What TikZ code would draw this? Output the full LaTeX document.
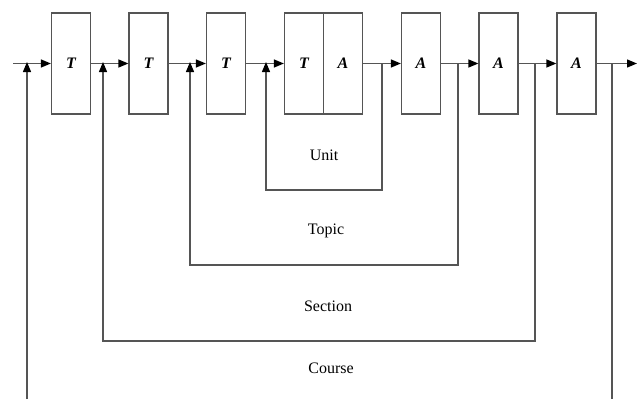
\documentclass[tikz,border=0pt]{standalone}
\usepackage{fontspec}
\setmainfont{Liberation Serif}
\usetikzlibrary{arrows.meta}
\definecolor{ln}{HTML}{555555}
\tikzset{
  blk/.style={draw=ln, line width=1.2pt, minimum width=39pt, minimum height=101pt, inner sep=0pt, font=\fontsize{16}{16}\selectfont\bfseries\itshape},
  wire/.style={draw=ln, line width=1.3pt},
  arr/.style={wire, -{Triangle[length=10pt,width=8pt,color=black]}},
  lbl/.style={font=\fontsize{16}{16}\selectfont, inner sep=0pt}
}
\begin{document}
\begin{tikzpicture}[x=1pt,y=-1pt]
\useasboundingbox (0,0) rectangle (640,399);
% boxes
\node[blk] (b1) at (71,63.5) {T};
\node[blk] (b2) at (148.5,63.5) {T};
\node[blk] (b3) at (226,63.5) {T};
\node[blk] (b4t) at (304,63.5) {T};
\node[blk] (b4a) at (343,63.5) {A};
\node[blk] (b5) at (421,63.5) {A};
\node[blk] (b6) at (498.5,63.5) {A};
\node[blk] (b7) at (576.5,63.5) {A};
% junction coordinates
\coordinate (in) at (13,63.5);
\coordinate (out) at (637,63.5);
\coordinate (j1) at (27,63.5);
\coordinate (j2) at (103,63.5);
\coordinate (j3) at (190,63.5);
\coordinate (j4) at (266,63.5);
\coordinate (k4) at (382,63.5);
\coordinate (k5) at (458,63.5);
\coordinate (k6) at (535,63.5);
\coordinate (k7) at (612,63.5);
% forward path
\draw[arr] (in) -- (b1.west);
\draw[arr] (b1.east) -- (b2.west);
\draw[arr] (b2.east) -- (b3.west);
\draw[arr] (b3.east) -- (b4t.west);
\draw[arr] (b4a.east) -- (b5.west);
\draw[arr] (b5.east) -- (b6.west);
\draw[arr] (b6.east) -- (b7.west);
\draw[arr] (b7.east) -- (out);
% feedback loops
\draw[arr] (k4) |- (266,190) -- ([yshift=1.5pt]j4);
\draw[arr] (k5) |- (190,265) -- ([yshift=1.5pt]j3);
\draw[arr] (k6) |- (103,341) -- ([yshift=1.5pt]j2);
\coordinate (cl) at (27,399);
\coordinate (cr) at (612,399);
\draw[wire] (k7) -- (cr);
\draw[arr] (cl) -- ([yshift=1.5pt]j1);
% labels
\node[lbl] (unit) at (324,155) {Unit};
\node[lbl] (topic) at (326,231) {Topic};
\node[lbl] (section) at (328,306) {Section};
\node[lbl] (course) at (331,368) {Course};
\end{tikzpicture}
\end{document}
